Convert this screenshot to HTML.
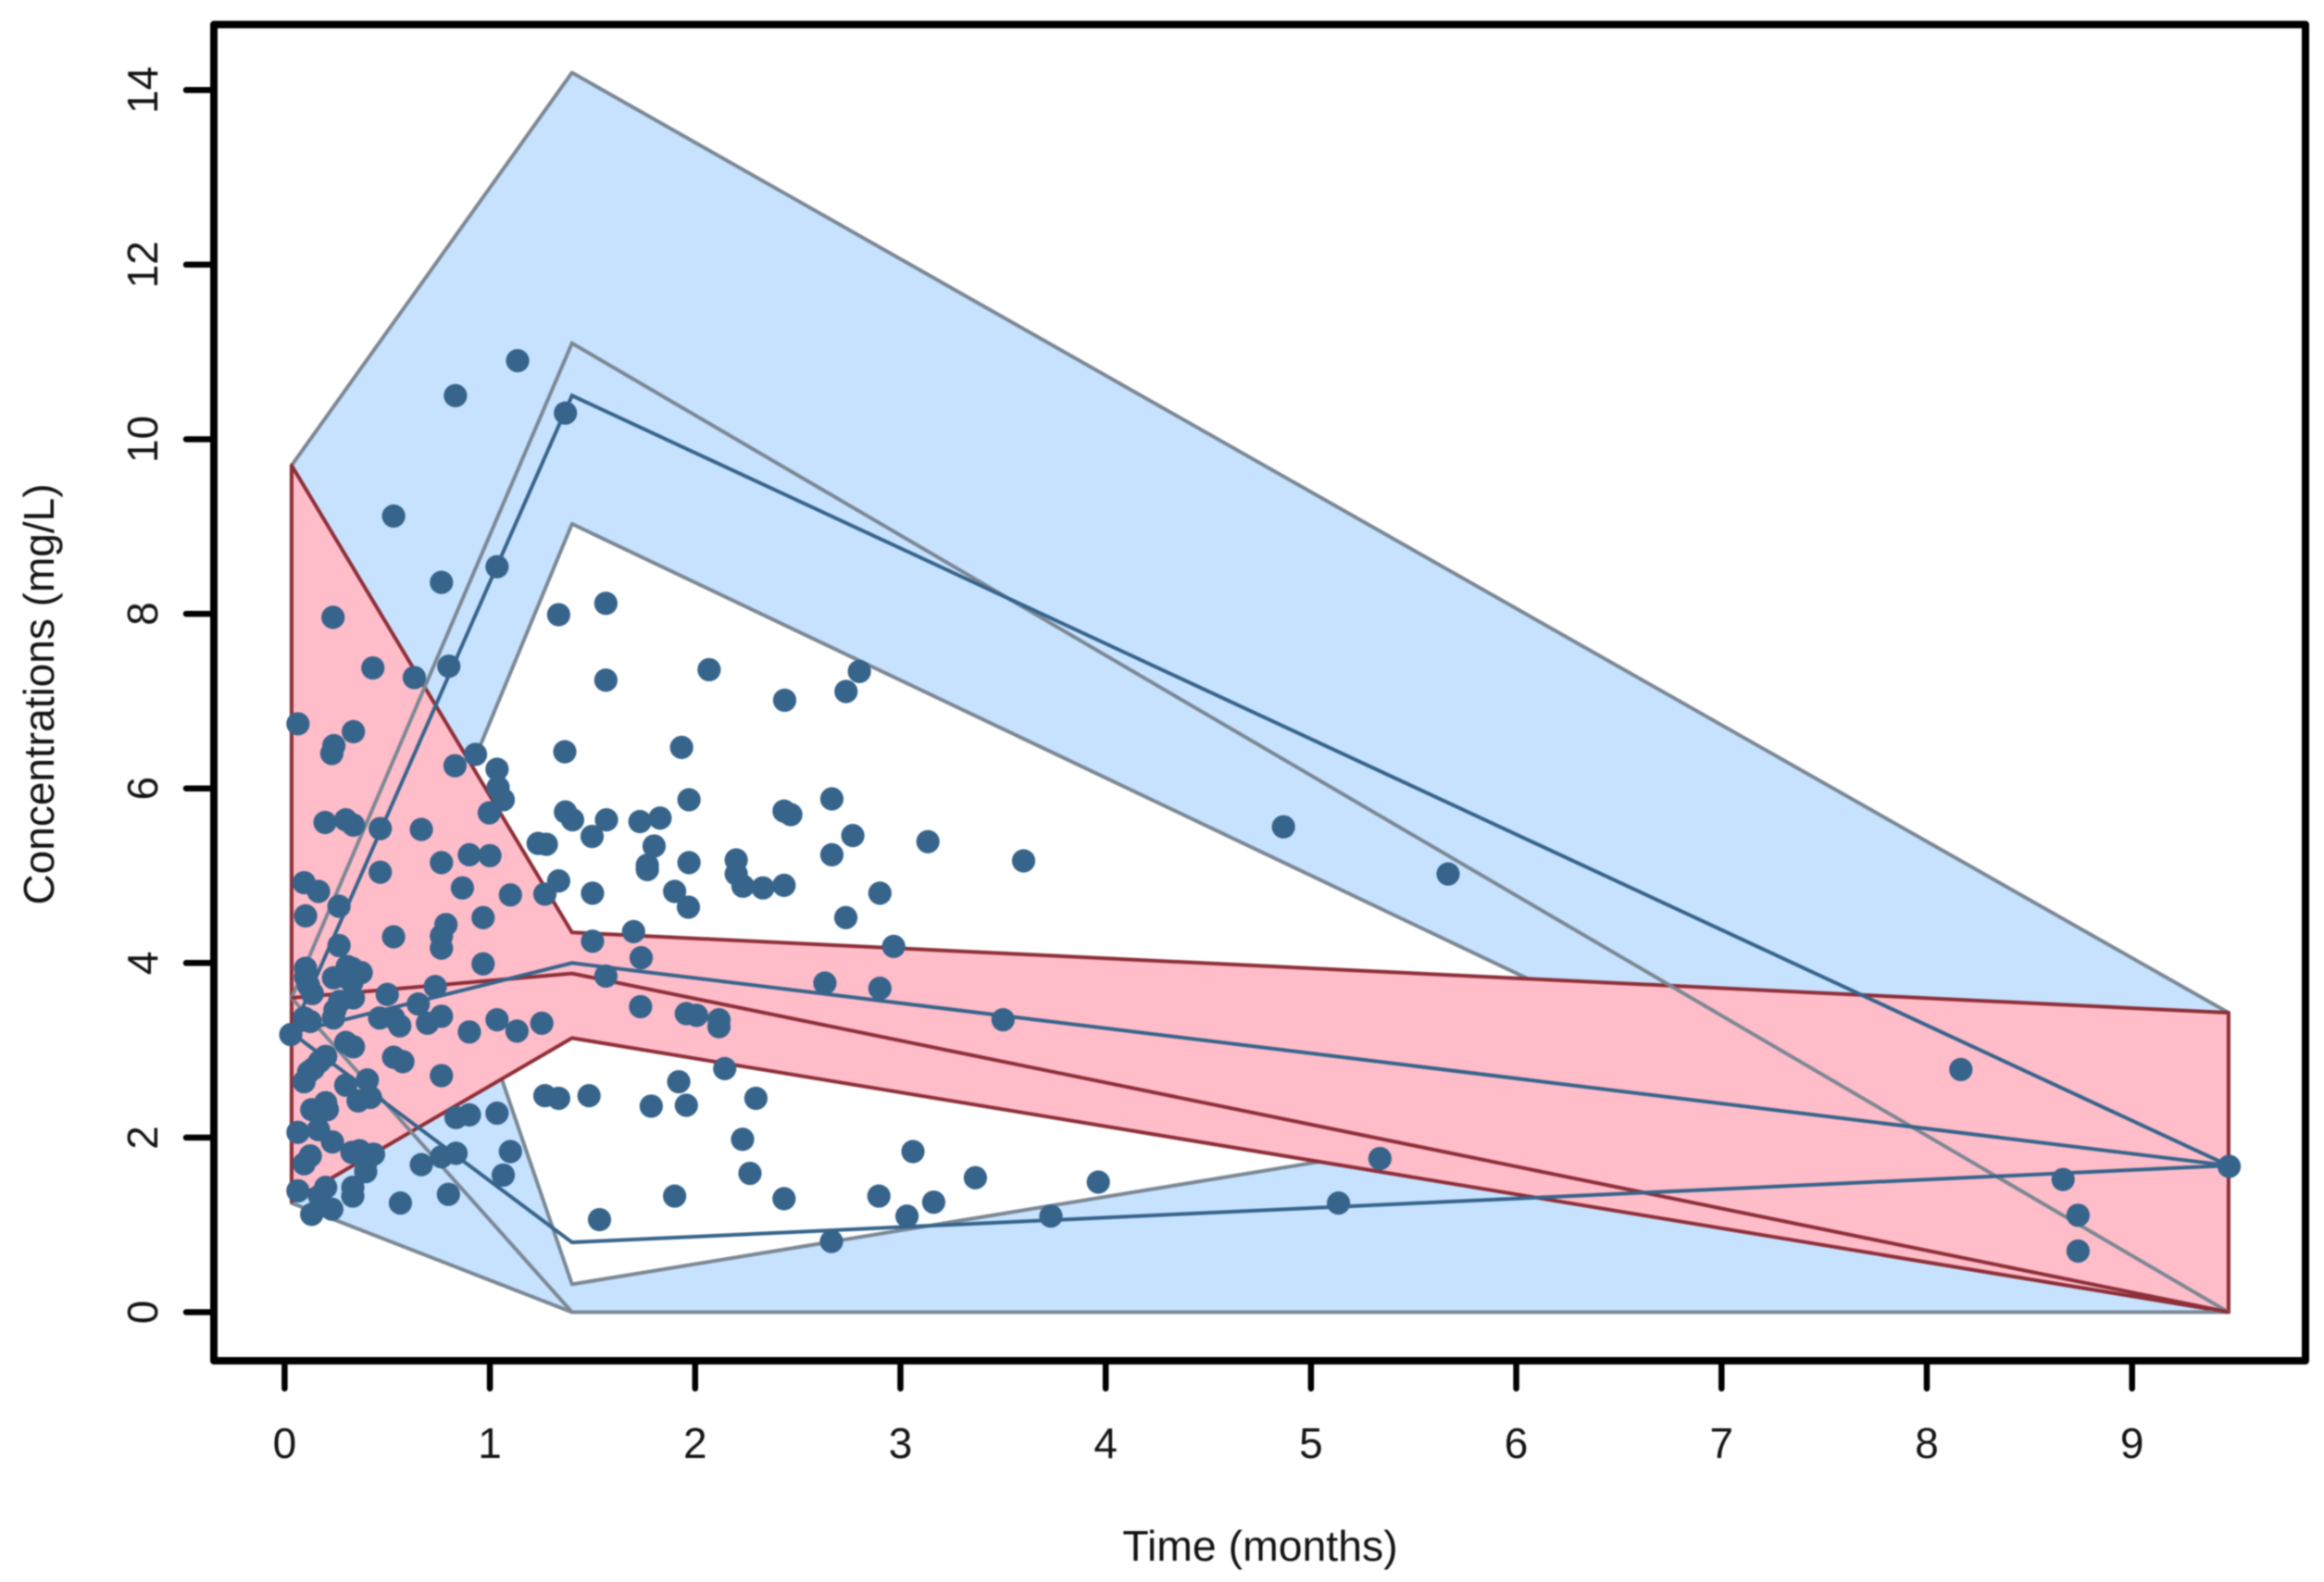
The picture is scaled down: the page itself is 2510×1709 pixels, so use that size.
<!DOCTYPE html>
<html lang="en">
<head>
<meta charset="utf-8">
<title>Concentrations over time</title>
<style>
  html, body { margin: 0; padding: 0; background: #fff; }
  svg { display: block; filter: blur(0.8px); }
  text { font-family: "Liberation Sans", sans-serif; fill: #141414; font-size: 46px; }
</style>
</head>
<body>
<svg id="chart" xmlns="http://www.w3.org/2000/svg" width="2510" height="1709" viewBox="0 0 2510 1709">
  <rect x="0" y="0" width="2510" height="1709" fill="#fff"/>
  <g id="bands"></g>
  <g id="lines"></g>
  <g id="points"></g>
  <g id="axes"></g>
  <text x="1361" y="1686" text-anchor="middle" style="font-size:46.4px">Time (months)</text>
  <text transform="translate(58 750) rotate(-90)" text-anchor="middle">Concentrations (mg/L)</text>
</svg>
<script>
// ---- data ----
const binTimes = [0.034, 1.40, 9.47];
const xTickLabels = [0, 1, 2, 3, 4, 5, 6, 7, 8, 9];
const yTickLabels = [0, 2, 4, 6, 8, 10, 12, 14];

const upperBandHigh = [9.7, 14.2, 3.43];
const upperBandLow = [1.27, 9.03, 0];
const lowerBandHigh = [9.7, 0.32, 3.43];
const lowerBandLow = [1.25, 0, 0];
const medianBandHigh = [9.7, 4.35, 3.43];
const medianBandLow = [1.27, 3.14, 0];

const predictedUpper = [3.6, 11.1, 0];
const predictedMedian = [3.6, 3.88, 0];
const predictedLower = [3.6, 0, 0];

const observedUpper = [3.2, 10.5, 1.68];
const observedMedian = [3.2, 4.0, 1.68];
const observedLower = [3.2, 0.8, 1.68];

const obsTime = [
  0.24,0.23,1.365,0.83,0.93,1.035,1.04,1.065,0.997,0.197,0.298,0.335,0.466,0.666,0.764,0.90,1.0,0.466,0.866,1.10,
  1.268,1.335,0.095,0.165,0.102,0.265,0.967,0.786,0.764,0.764,0.531,0.265,0.967,1.50,1.70,1.737,1.565,1.734,0.102,0.102,
  0.117,0.135,0.238,0.305,0.328,0.373,0.298,0.328,0.734,0.50,0.651,0.764,0.696,0.335,0.268,0.245,0.238,0.095,0.125,0.03,
  0.463,0.531,0.561,0.90,1.035,1.132,1.253,0.298,0.335,0.531,0.576,0.764,0.20,0.17,0.14,0.117,0.095,0.403,0.298,0.358,
  0.418,0.20,0.132,0.208,0.835,0.90,1.035,0.065,0.165,0.233,1.10,1.065,0.328,0.365,0.433,0.395,0.395,0.125,0.095,0.666,
  0.764,0.835,0.332,0.332,0.20,0.17,0.065,0.23,0.132,0.564,0.798,1.268,1.335,1.483,1.786,1.534,1.368,1.403,1.568,1.498,
  1.731,1.829,1.80,1.767,1.767,1.50,1.235,1.275,
  1.135,0.832,1.368,0.531,1.035,0.764,0.236,1.335,1.565,1.565,0.43,0.632,0.80,0.065,0.335,
  2.068,2.436,2.80,2.735,1.934,1.97,1.97,1.90,1.967,2.20,2.20,2.233,2.33,2.433,2.666,2.433,2.466,2.768,2.666,3.134,
  3.60,2.90,2.734,2.967,2.632,2.90,3.50,
  1.957,2.007,2.116,2.116,2.144,1.92,1.957,2.296,2.231,2.267,2.433,1.90,2.664,2.895,3.032,3.061,3.162,3.365,3.964,3.733,
  5.134,5.336,4.866,5.668,8.166,8.664,8.737,8.737,9.473
];
const obsConc = [
  6.49,6.40,6.42,6.26,6.39,6.22,6.01,5.87,5.72,5.61,5.64,5.58,5.54,5.53,5.15,5.24,5.23,5.04,4.86,4.78,
  4.79,4.94,4.92,4.82,4.54,4.65,4.52,4.44,4.31,4.17,4.30,4.20,3.99,4.25,4.36,4.06,3.85,3.50,3.94,3.84,
  3.74,3.65,3.83,3.96,3.94,3.89,3.84,3.78,3.73,3.64,3.53,3.39,3.31,3.60,3.56,3.46,3.37,3.37,3.33,3.18,
  3.37,3.37,3.28,3.21,3.35,3.22,3.31,3.09,3.04,2.92,2.87,2.71,2.93,2.87,2.79,2.75,2.64,2.66,2.60,2.42,
  2.46,2.40,2.32,2.32,2.23,2.26,2.28,2.06,2.09,1.95,1.84,1.57,1.83,1.85,1.81,1.71,1.61,1.79,1.70,1.69,
  1.78,1.82,1.43,1.33,1.43,1.33,1.39,1.18,1.12,1.25,1.35,2.48,2.45,2.48,2.36,1.06,5.73,5.64,5.64,5.45,
  5.62,5.66,5.34,5.07,5.12,4.80,5.37,5.36,
  10.90,10.50,10.30,9.12,8.54,8.36,7.96,7.99,8.12,7.24,7.38,7.27,7.40,6.74,6.65,
  7.36,7.01,7.34,7.11,6.47,5.87,5.15,4.82,4.64,5.18,5.02,4.88,4.86,4.89,5.88,5.74,5.70,5.46,5.24,5.39,
  5.17,4.80,4.52,4.19,3.77,3.71,3.35,
  3.42,3.40,3.35,3.27,2.79,2.64,2.37,2.45,1.98,1.59,1.30,1.33,0.81,1.33,1.10,1.84,1.26,1.54,1.49,1.10,
  1.25,1.76,5.56,5.02,2.78,1.52,1.11,0.70,1.67
];

// ---- axis functions ----
function xScale(t) { return 307.4 + t * 221.7; }
function yScale(v) { return 1417.5 - v * 94.3; }

const SVG_NS = 'http://www.w3.org/2000/svg';

function mk(tag, attrs) {
  const el = document.createElementNS(SVG_NS, tag);
  for (const k in attrs) el.setAttribute(k, attrs[k]);
  return el;
}
function linePoints(values) {
  return values.map(function (v, i) { return xScale(binTimes[i]) + ',' + yScale(v); }).join(' ');
}
function bandPoints(high, low) {
  const top = high.map(function (v, i) { return xScale(binTimes[i]) + ',' + yScale(v); });
  const bottom = low.map(function (v, i) { return xScale(binTimes[i]) + ',' + yScale(v); }).reverse();
  return top.concat(bottom).join(' ');
}

// ---- bands ----
const bandsGroup = document.getElementById('bands');

const upperBand = mk('polygon', { points: bandPoints(upperBandHigh, upperBandLow), fill: '#C6E2FF', stroke: '#7C8894', 'stroke-width': 4, 'stroke-linejoin': 'round' });


bandsGroup.appendChild(upperBand);

const lowerBand = mk('polygon', { points: bandPoints(lowerBandHigh, lowerBandLow), fill: '#C6E2FF', stroke: '#7C8894', 'stroke-width': 4, 'stroke-linejoin': 'round' });


bandsGroup.appendChild(lowerBand);

const medianBand = mk('polygon', { points: bandPoints(medianBandHigh, medianBandLow), fill: '#FFBCC9', stroke: '#8E2F38', 'stroke-width': 4, 'stroke-linejoin': 'round' });


bandsGroup.appendChild(medianBand);

// ---- lines ----
const linesGroup = document.getElementById('lines');

const lineUpperPred = mk('polyline', { points: linePoints(predictedUpper), fill: 'none', stroke: '#7C8894', 'stroke-width': 4 });


linesGroup.appendChild(lineUpperPred);

const lineLowerPred = mk('polyline', { points: linePoints(predictedLower), fill: 'none', stroke: '#7C8894', 'stroke-width': 4 });


linesGroup.appendChild(lineLowerPred);

const lineMedianPred = mk('polyline', { points: linePoints(predictedMedian), fill: 'none', stroke: '#8E2F38', 'stroke-width': 4 });


linesGroup.appendChild(lineMedianPred);

const lineUpperObs = mk('polyline', { points: linePoints(observedUpper), fill: 'none', stroke: '#36648B', 'stroke-width': 4 });


linesGroup.appendChild(lineUpperObs);

const lineMedianObs = mk('polyline', { points: linePoints(observedMedian), fill: 'none', stroke: '#36648B', 'stroke-width': 4 });


linesGroup.appendChild(lineMedianObs);

const lineLowerObs = mk('polyline', { points: linePoints(observedLower), fill: 'none', stroke: '#36648B', 'stroke-width': 4 });


linesGroup.appendChild(lineLowerObs);

// ---- points ----
const pointsGroup = document.getElementById('points');
obsTime.forEach(function (t, i) {
  const dot = mk('circle', { cx: xScale(t), cy: yScale(obsConc[i]), r: 12.6, fill: '#36648B' });
  
  
  pointsGroup.appendChild(dot);
});

// ---- axes ----
const axesGroup = document.getElementById('axes');

const frame = mk('rect', { x: 231, y: 26.5, width: 2259, height: 1443.5, fill: 'none', stroke: '#000', 'stroke-width': 8, 'stroke-linejoin': 'round' });


axesGroup.appendChild(frame);

xTickLabels.forEach(function (t) {
  const tick = mk('line', { x1: xScale(t), x2: xScale(t), y1: 1470, y2: 1500, stroke: '#000', 'stroke-width': 6.5, 'stroke-linecap': 'round' });
  
  
  axesGroup.appendChild(tick);
  const label = mk('text', { x: xScale(t), y: 1575, 'text-anchor': 'middle' });
  
  
  label.textContent = String(t);
  axesGroup.appendChild(label);
});

yTickLabels.forEach(function (v) {
  const tick = mk('line', { x1: 231, x2: 201, y1: yScale(v), y2: yScale(v), stroke: '#000', 'stroke-width': 6.5, 'stroke-linecap': 'round' });
  
  
  axesGroup.appendChild(tick);
  const label = mk('text', { transform: 'translate(170 ' + yScale(v) + ') rotate(-90)', 'text-anchor': 'middle' });
  
  
  label.textContent = String(v);
  axesGroup.appendChild(label);
});
</script>
</body>
</html>
